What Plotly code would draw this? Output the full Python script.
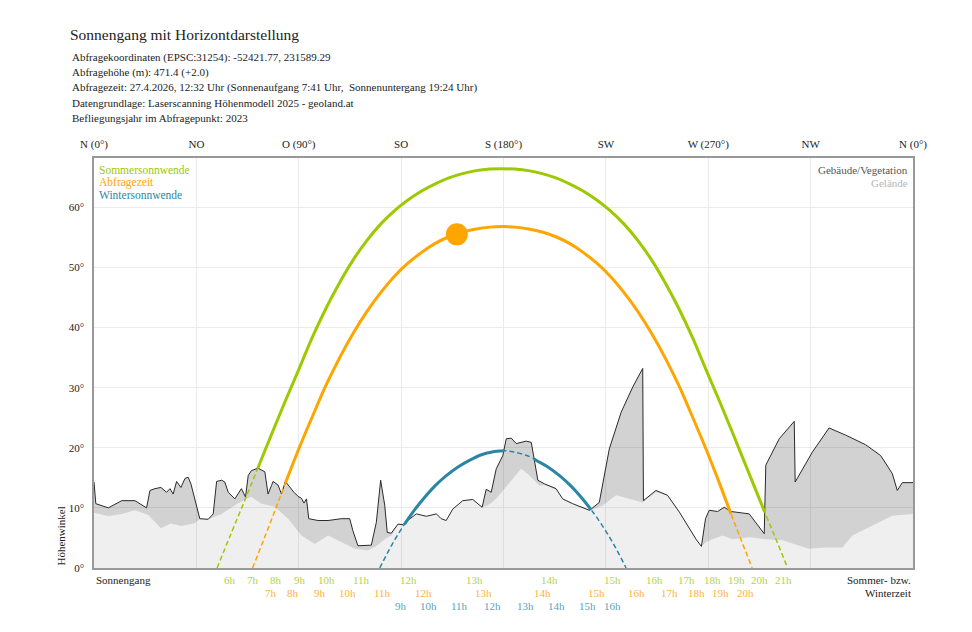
import numpy as np
import plotly.graph_objects as go

# ---------------- data ----------------
dir_az = [0, 45, 90, 135, 180, 225, 270, 315, 360]
dir_labels = ["N (0°)", "NO", "O (90°)", "SO", "S (180°)", "SW", "W (270°)", "NW", "N (0°)"]
elev_ticks = [0, 10, 20, 30, 40, 50, 60]
elev_labels = ["0°", "10°", "20°", "30°", "40°", "50°", "60°"]

# horizon: buildings / vegetation (upper profile)
bld_az = [0, 0.8, 6.3, 12.2, 18.0, 23.1, 24.6, 26.8, 29.4, 31.9, 33.4, 34.8, 36.3, 38.2, 40.0, 41.4,
          42.6, 44.0, 45.1, 46.5, 50.2, 52.4, 53.9, 56.1, 57.5, 59.0, 61.9, 64.8, 66.6, 67.8, 69.2,
          72.1, 75.1, 76.5, 78.0, 78.7, 80.9, 82.4, 84.1, 86.0, 87.9, 89.7, 91.2, 92.3, 93.4, 94.4,
          98.5, 102.9, 108.7, 112.4, 113.8, 116.0, 121.9, 124.1, 126.0, 127.8, 128.9, 130.7, 133.6,
          135.8, 136.5, 141.7, 146.1, 150.5, 152.6, 154.8, 157.7, 162.1, 166.5, 170.6, 172.4, 174.6,
          176.8, 179.7, 181.2, 183.4, 185.6, 190.0, 192.2, 195.1, 198.0, 203.1, 206.0, 210.4, 217.8,
          222.1, 222.9, 226.5, 231.7, 236.8, 241.2, 241.5, 247.0, 252.1, 257.3, 261.7, 264.6, 267.0,
          268.8, 270.4, 274.1, 277.0, 280.0, 288.0, 294.6, 295.3, 301.2, 307.8, 308.2, 315.8, 323.1,
          330.4, 339.2, 345.8, 350.9, 353.1, 355.3, 360]
bld_el = [14.3, 10.7, 10.0, 11.2, 11.2, 10.0, 12.9, 13.2, 13.4, 12.6, 13.2, 12.3, 14.4, 13.4, 14.9, 15.1,
          14.0, 11.8, 10.4, 8.2, 8.1, 9.0, 14.4, 14.6, 14.3, 12.6, 11.5, 13.2, 11.8, 15.4, 16.2,
          16.6, 16.0, 12.3, 13.7, 14.4, 13.8, 12.3, 14.4, 13.4, 12.6, 11.9, 11.6, 10.8, 11.5, 8.2,
          7.9, 7.9, 8.2, 8.2, 6.2, 3.7, 3.8, 7.6, 14.6, 10.4, 5.9, 5.8, 7.3,
          7.2, 7.5, 9.0, 8.6, 9.0, 8.2, 7.9, 9.8, 11.2, 11.4, 10.1, 13.1, 12.6,
          16.5, 18.7, 21.5, 21.6, 20.7, 21.1, 20.9, 14.6, 14.0, 13.2, 11.5, 10.7, 9.6,
          10.9, 12.6, 19.8, 25.9, 30.1, 33.2, 11.2, 12.9, 12.1, 9.3, 6.5, 4.8, 3.6,
          8.2, 9.6, 9.4, 10.1, 9.4, 9.0, 5.7, 17.1, 21.5, 24.4, 14.3, 19.3, 23.3,
          22.1, 20.5, 18.7, 15.7, 12.9, 14.2, 14.2]

# horizon: terrain only (lower profile)
ter_az = [0, 6.3, 12.2, 18.0, 23.8, 29.4, 33.8, 38.2, 44.0, 46.5, 50.2, 56.1, 61.9, 67.0, 69.2, 73.6,
          79.5, 85.3, 91.2, 97.0, 102.9, 108.7, 114.6, 120.4, 124.0, 127.8, 131.0, 133.6, 135.8, 136.5,
          141.7, 146.1, 150.5, 152.6, 154.8, 157.7, 162.1, 166.5, 170.6, 172.4, 174.6, 176.8, 180.0,
          184.1, 187.8, 191.4, 195.8, 198.0, 203.1, 206.0, 210.4, 217.8, 223.6, 229.5, 235.3, 241.2,
          247.0, 252.1, 257.3, 261.7, 264.6, 267.0, 269.0, 271.9, 276.3, 280.7, 288.0, 295.3, 302.6,
          310.0, 314.3, 321.7, 329.0, 333.4, 342.1, 350.9, 360]
ter_el = [9.2, 8.6, 9.0, 9.6, 8.8, 6.6, 7.4, 7.0, 7.4, 8.1, 8.1, 9.0, 10.4, 11.5, 11.8, 10.7,
          10.2, 8.2, 5.4, 4.0, 5.4, 4.3, 3.2, 2.9, 3.6, 4.8, 5.5, 7.2, 7.2, 7.5,
          9.0, 8.6, 9.0, 8.2, 7.9, 9.8, 11.2, 11.4, 10.1, 10.3, 10.8, 11.5, 13.0,
          14.8, 16.5, 15.4, 13.7, 13.8, 13.0, 11.4, 10.6, 9.5, 10.4, 12.1, 11.5, 10.9,
          12.6, 12.0, 9.2, 6.4, 4.7, 3.6, 4.3, 4.8, 5.4, 4.8, 5.1, 4.8, 4.6,
          3.7, 3.2, 3.4, 3.4, 5.4, 7.1, 8.7, 9.0]

# sun paths (azimuth, elevation)
summer_az = [54.1, 60, 66, 72, 78, 84, 90, 96, 102, 108, 114, 120, 126, 132, 138, 144, 150, 156, 162,
             168, 174, 179.5, 185, 191, 197, 203, 209, 215, 221, 227, 233, 239, 245, 251, 257, 263,
             269, 275, 281, 287, 293, 294.8, 299, 304.9]
summer_el = [0, 5.5, 11.0, 16.6, 22.2, 27.7, 33.0, 38.4, 43.2, 47.5, 51.3, 54.5, 57.2, 59.4, 61.2, 62.7,
             63.9, 64.9, 65.6, 66.1, 66.35, 66.4, 66.35, 66.1, 65.6, 64.9, 63.9, 62.7, 61.2, 59.4, 57.2,
             54.5, 51.3, 47.5, 43.2, 38.4, 33.0, 27.7, 22.2, 16.6, 11.0, 9.3, 5.5, 0]

query_az = [69.7, 75, 80, 84.2, 90, 96, 102, 108, 114, 120, 126, 132, 138, 144, 150, 156, 162, 168,
            174, 179.5, 185, 191, 197, 203, 209, 215, 221, 227, 233, 239, 245, 251, 257, 263, 269,
            274, 279, 280, 284, 289.3]
query_el = [0, 5.1, 10.0, 14.2, 19.8, 25.2, 30.4, 35.0, 39.1, 42.7, 45.8, 48.5, 50.7, 52.5, 54.0, 55.1,
            55.9, 56.4, 56.7, 56.8, 56.7, 56.4, 55.9, 55.1, 54.0, 52.5, 50.7, 48.5, 45.8, 42.7, 39.1,
            35.0, 30.4, 25.2, 19.8, 15.0, 10.0, 9.0, 5.1, 0]

winter_az = [125.6, 131, 136.5, 141, 145, 150, 155, 160, 165, 170, 175, 180.3, 184.5, 189.5, 193.4,
             194.5, 199.5, 204.5, 209.5, 214.5, 218.5, 223, 228.5, 233.9]
winter_el = [0, 3.9, 7.3, 9.7, 11.6, 13.7, 15.4, 16.8, 17.9, 18.8, 19.3, 19.5, 19.3, 18.8, 18.2,
             17.9, 16.8, 15.4, 13.7, 11.6, 9.7, 7.3, 3.9, 0]

sun_now_az = [159.5]
sun_now_el = [55.5]

# hour marks along the horizon axis
summer_hours = ["6h", "7h", "8h", "9h", "10h", "11h", "12h", "13h", "14h", "15h", "16h", "17h",
                "18h", "19h", "20h", "21h"]
summer_hour_az = [59.7, 69.8, 80.2, 90.4, 102.2, 117.5, 138.4, 167.3, 200.2, 227.7, 246.3, 260.6,
                  271.9, 282.2, 292.4, 302.9]
query_hours = ["7h", "8h", "9h", "10h", "11h", "12h", "13h", "14h", "15h", "16h", "17h", "18h",
               "19h", "20h"]
query_hour_az = [77.6, 87.5, 99.2, 111.6, 127.0, 145.0, 171.4, 197.3, 220.7, 238.3, 252.9, 264.9,
                 275.6, 286.5]
winter_hours = ["9h", "10h", "11h", "12h", "13h", "14h", "15h", "16h"]
winter_hour_az = [134.8, 147.2, 160.7, 175.0, 189.7, 203.1, 217.0, 228.0]

# ---------------- style ----------------
FONT = "Liberation Serif"
C_SUM, C_QRY, C_WIN = "#9cc900", "#ffa500", "#2a87a4"
L_SUM, L_QRY, L_WIN = "#b3d24d", "#ffb23a", "#5aa3be"

fig = go.Figure()

fig.add_trace(go.Scatter(x=ter_az, y=ter_el, mode="lines", line=dict(width=0),
                         fill="tozeroy", fillcolor="rgba(0,0,0,0.062)", hoverinfo="skip"))
fig.add_trace(go.Scatter(x=bld_az, y=bld_el, mode="lines", line=dict(color="#2a2a2a", width=1),
                         fill="tonexty", fillcolor="rgba(0,0,0,0.175)", hoverinfo="skip"))


def visible(az, el):
    h = np.interp(az, bld_az, bld_el)
    return [e if e >= hh - 0.5 else None for e, hh in zip(el, h)]


for az, el, col in [(summer_az, summer_el, C_SUM), (query_az, query_el, C_QRY),
                    (winter_az, winter_el, C_WIN)]:
    fig.add_trace(go.Scatter(x=az, y=el, mode="lines",
                             line=dict(color=col, width=1.5, dash="5px,3px", shape="spline",
                                       smoothing=1.0), hoverinfo="skip"))
for az, el, col in [(summer_az, summer_el, C_SUM), (query_az, query_el, C_QRY),
                    (winter_az, winter_el, C_WIN)]:
    fig.add_trace(go.Scatter(x=az, y=visible(az, el), mode="lines", connectgaps=False,
                             line=dict(color=col, width=3, shape="spline", smoothing=1.0),
                             hoverinfo="skip"))

fig.add_trace(go.Scatter(x=sun_now_az, y=sun_now_el, mode="markers",
                         marker=dict(color=C_QRY, size=22), hoverinfo="skip"))

shapes = []
annotations = []

rows = [(summer_hours, summer_hour_az, L_SUM, -11.5),
        (query_hours, query_hour_az, L_QRY, -24.5),
        (winter_hours, winter_hour_az, L_WIN, -37.5)]
for labels, azs, col, ysh in rows:
    for lab, a in zip(labels, azs):
        shapes.append(dict(type="line", xref="x", yref="y", ysizemode="pixel", yanchor=0,
                           x0=a, x1=a, y0=-1, y1=-7, line=dict(color=col, width=1.2)))
        annotations.append(dict(x=a, y=0, xref="x", yref="y", text=lab, showarrow=False,
                                yanchor="middle", yshift=ysh, font=dict(family=FONT, size=11, color=col)))

# outer frame line on the right
shapes.append(dict(type="line", xref="paper", yref="paper", x0=1.0696, x1=1.0696, y0=-0.17,
                   y1=1.4, line=dict(color="#9a9a9a", width=1)))

title_lines = ["Abfragekoordinaten (EPSC:31254): -52421.77, 231589.29",
               "Abfragehöhe (m): 471.4 (+2.0)",
               "Abfragezeit: 27.4.2026, 12:32 Uhr (Sonnenaufgang 7:41 Uhr,\u00a0 Sonnenuntergang 19:24 Uhr)",
               "Datengrundlage: Laserscanning Höhenmodell 2025 - geoland.at",
               "Befliegungsjahr im Abfragepunkt: 2023"]
annotations.append(dict(x=0, y=1, xref="paper", yref="paper", xanchor="left", yanchor="middle",
                        xshift=-26, yshift=124, showarrow=False, text="Sonnengang mit Horizontdarstellung",
                        font=dict(family=FONT, size=15.5, color="#222")))
for i, t in enumerate(title_lines):
    annotations.append(dict(x=0, y=1, xref="paper", yref="paper", xanchor="left", yanchor="middle",
                            xshift=-24, yshift=101 - i * 15.2, showarrow=False, text=t,
                            font=dict(family=FONT, size=11, color="#222")))

# legends
for i, (t, c) in enumerate([("Sommersonnwende", C_SUM), ("Abfragezeit", C_QRY),
                            ("Wintersonnwende", C_WIN)]):
    annotations.append(dict(x=0, y=1, xref="paper", yref="paper", xanchor="left", yanchor="middle",
                            xshift=3, yshift=-12 - i * 12.5, showarrow=False, text=t,
                            font=dict(family=FONT, size=11.5, color=c)))
for i, (t, c) in enumerate([("Gebäude/Vegetation", "#555"), ("Gelände", "#b4b4b4")]):
    annotations.append(dict(x=1, y=1, xref="paper", yref="paper", xanchor="right", yanchor="middle",
                            xshift=-3, yshift=-12 - i * 12.5, showarrow=False, text=t,
                            font=dict(family=FONT, size=11, color=c)))

annotations.append(dict(x=0, y=0, xref="paper", yref="paper", xanchor="left", yanchor="middle",
                        xshift=0, yshift=-12, showarrow=False, text="Sonnengang",
                        font=dict(family=FONT, size=11, color="#222")))
annotations.append(dict(x=1, y=0, xref="paper", yref="paper", xanchor="right", yanchor="middle",
                        xshift=0, yshift=-12, showarrow=False, text="Sommer- bzw.",
                        font=dict(family=FONT, size=11, color="#222")))
annotations.append(dict(x=1, y=0, xref="paper", yref="paper", xanchor="right", yanchor="middle",
                        xshift=0, yshift=-25, showarrow=False, text="Winterzeit",
                        font=dict(family=FONT, size=11, color="#222")))
annotations.append(dict(x=0, y=0, xref="paper", yref="paper", xanchor="center", yanchor="bottom",
                        xshift=-34, yshift=0, showarrow=False, text="Höhenwinkel", textangle=-90,
                        font=dict(family=FONT, size=11, color="#222")))

# the page adds an 8px body margin, so the figure is sized to fit the window inside it
fig.update_layout(
    width=964, height=624,
    margin=dict(l=86, r=59, t=150, b=64),
    paper_bgcolor="white", plot_bgcolor="white",
    showlegend=False,
    shapes=shapes, annotations=annotations,
    font=dict(family=FONT, size=11, color="#222"),
    xaxis=dict(range=[0, 360], side="top", tickmode="array", tickvals=dir_az, ticktext=dir_labels,
               showgrid=True, gridcolor="#ebebeb", gridwidth=1, zeroline=False,
               showline=True, mirror=True, linecolor="#999", linewidth=1.5,
               ticks="", ticklabelstandoff=4, tickfont=dict(family=FONT, size=11, color="#222")),
    yaxis=dict(range=[0, 68.2], tickmode="array", tickvals=elev_ticks, ticktext=elev_labels,
               showgrid=True, gridcolor="#ebebeb", gridwidth=1, zeroline=False,
               showline=True, mirror=True, linecolor="#999", linewidth=1.5,
               ticks="", ticklabelstandoff=6, tickfont=dict(family=FONT, size=11, color="#222")),
)

fig.write_html("out.html")
